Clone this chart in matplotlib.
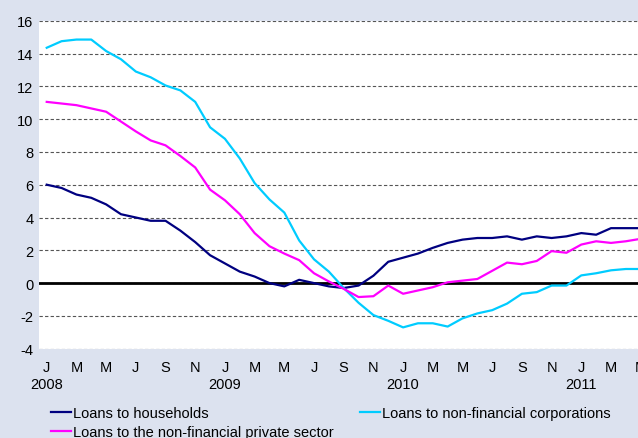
import matplotlib
matplotlib.use("Agg")
import matplotlib.pyplot as plt
import numpy as np

plt.rcParams['font.family'] = ['Liberation Sans', 'DejaVu Sans']
plt.rcParams['axes.unicode_minus'] = False

# Monthly data, Jan 2008 - May 2011 (annual growth rates, %)
months = ["J", "F", "M", "A", "M", "J", "J", "A", "S", "O", "N", "D"]
years = ["2008", "2009", "2010", "2011"]

households = [6.0, 5.8, 5.4, 5.2, 4.8, 4.2, 4.0, 3.8, 3.8, 3.2, 2.5, 1.7,
              1.2, 0.7, 0.4, 0.0, -0.2, 0.2, 0.0, -0.2, -0.3, -0.15,
              0.45, 1.3, 1.55, 1.8, 2.15, 2.45, 2.65, 2.75, 2.75, 2.85,
              2.65, 2.85, 2.75, 2.85, 3.05, 2.95, 3.35, 3.35, 3.35]
nfc = [14.35, 14.75, 14.85, 14.85, 14.15, 13.65, 12.9, 12.55, 12.05, 11.75,
       11.05, 9.5, 8.8, 7.6, 6.1, 5.1, 4.3, 2.6, 1.45, 0.7, -0.3, -1.2,
       -1.95, -2.3, -2.7, -2.45, -2.45, -2.65, -2.15, -1.85, -1.65, -1.25,
       -0.65, -0.55, -0.15, -0.15, 0.47, 0.6, 0.78, 0.86, 0.86]
private = [11.05, 10.95, 10.85, 10.65, 10.45, 9.85, 9.25, 8.7, 8.4, 7.75,
           7.05, 5.7, 5.05, 4.2, 3.05, 2.25, 1.8, 1.4, 0.6, 0.1, -0.35, -0.85,
           -0.8, -0.15, -0.65, -0.45, -0.25, 0.05, 0.15, 0.25, 0.75, 1.25,
           1.15, 1.35, 1.95, 1.85, 2.35, 2.55, 2.45, 2.55, 2.7]

n = len(households)
x = np.arange(n)

W, H = 638, 439
fig = plt.figure(figsize=(W / 100, H / 100), dpi=100)
fig.patch.set_facecolor('#DCE2EF')

left, right = 39, 641
top, bottom = 21.7, 349.7
ax = fig.add_axes([left / W, 1 - bottom / H, (right - left) / W, (bottom - top) / H])
ax.set_facecolor('white')

ax.set_xlim(-0.52, 40.02)
ax.set_ylim(-4, 16)
ax.set_yticks(np.arange(-4, 17, 2))
ax.yaxis.grid(True, linestyle=(0, (3, 2)), color='#555555', linewidth=0.8)
ax.set_axisbelow(True)
for s in ax.spines.values():
    s.set_visible(False)

ax.axhline(0, color='black', linewidth=2.0, zorder=2)

l1, = ax.plot(x, households, color='#000080', linewidth=1.6, zorder=3,
              label='Loans to households')
l2, = ax.plot(x, nfc, color='#00CCFF', linewidth=1.6, zorder=3,
              label='Loans to non-financial corporations')
l3, = ax.plot(x, private, color='#FF00FF', linewidth=1.6, zorder=3,
              label='Loans to the non-financial private sector')

tick_pos = np.arange(0, n, 2)
ax.set_xticks(tick_pos)
ax.set_xticklabels([months[i % 12] for i in tick_pos], fontsize=10.5)
ax.tick_params(axis='x', length=0, pad=8)
ax.tick_params(axis='y', length=0, pad=4, labelsize=10.5)

for i, yr in enumerate(years):
    ax.text(i * 12, -0.107, yr, transform=ax.get_xaxis_transform(),
            ha='center', va='center', fontsize=10.5, clip_on=False)

fig.legend(handles=[l1, l3, l2], ncol=2, frameon=False, fontsize=10.5,
           loc='upper left', bbox_to_anchor=(51 / W, 1 - 407 / H),
           borderpad=0, borderaxespad=0, handlelength=1.35,
           handletextpad=0.15, columnspacing=1.85, labelspacing=0.35)

fig.savefig('out.png', dpi=100, facecolor=fig.get_facecolor())
